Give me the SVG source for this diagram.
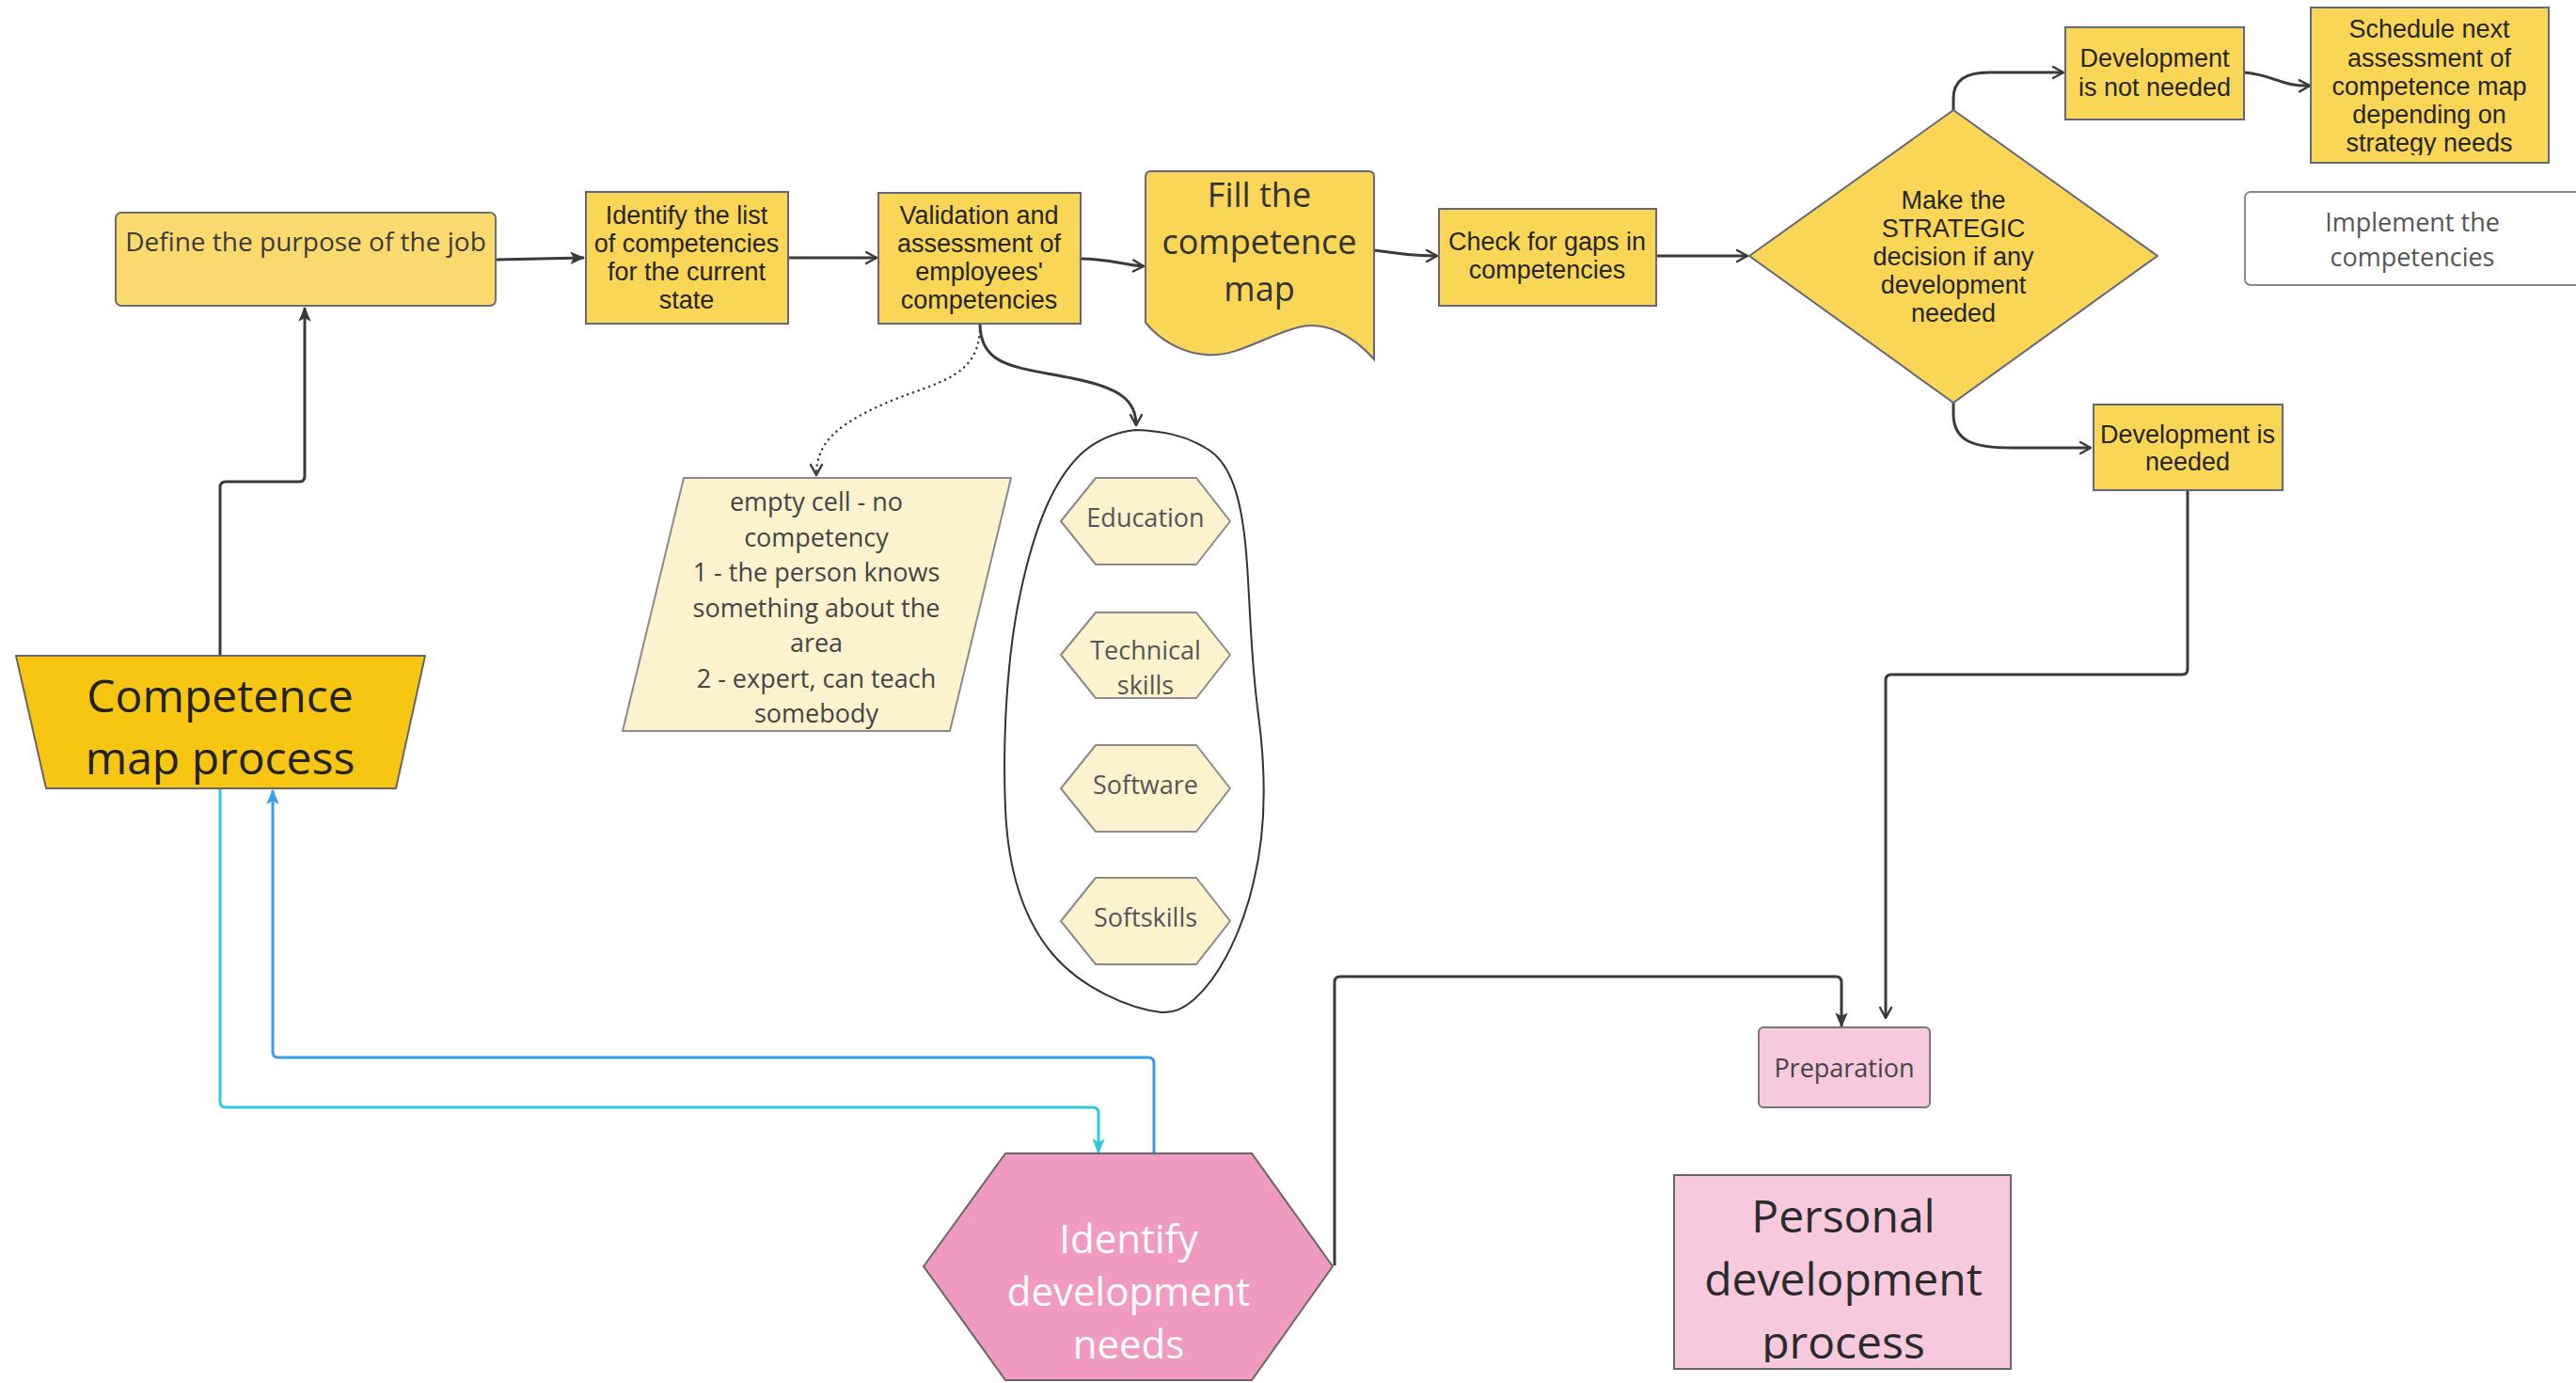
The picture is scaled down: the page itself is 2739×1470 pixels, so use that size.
<svg xmlns="http://www.w3.org/2000/svg" width="2739" height="1470" viewBox="0 0 2739 1470">
  <defs>
    <style>
      .sans { font-family: "Open Sans", "Noto Sans", sans-serif; text-anchor: middle; }
      .arial { font-family: "Liberation Sans", Arial, sans-serif; text-anchor: middle; fill: #262626; font-size: 27px; }
      .box { fill: #F9D656; stroke: #66667a; stroke-width: 2; }
      .light { fill: #FDF2CE; stroke: #8a8a8a; stroke-width: 2; stroke-linejoin: round; }
      .conn { fill: none; stroke: #3a3a3a; stroke-width: 3; stroke-linejoin: round; }
      .thin { fill: none; stroke: #3a3a3a; stroke-width: 2.2; }
      .hexlabel { font-size: 27px; fill: #555; }
    </style>
    <marker id="open" viewBox="0 0 16 16" refX="14" refY="8" markerWidth="16" markerHeight="16" markerUnits="userSpaceOnUse" orient="auto">
      <path d="M3,2 L14,8 L3,14" fill="none" stroke="#3a3a3a" stroke-width="2.4" stroke-linecap="round" stroke-linejoin="round"/>
    </marker>
    <marker id="solid" viewBox="0 0 16 16" refX="14" refY="8" markerWidth="18" markerHeight="18" markerUnits="userSpaceOnUse" orient="auto">
      <path d="M1,2 L15,8 L1,14 L4,8 Z" fill="#3a3a3a"/>
    </marker>
    <marker id="blue" viewBox="0 0 16 16" refX="14" refY="8" markerWidth="18" markerHeight="18" markerUnits="userSpaceOnUse" orient="auto">
      <path d="M1,2 L15,8 L1,14 L4,8 Z" fill="#3B9BEF"/>
    </marker>
    <marker id="cyan" viewBox="0 0 16 16" refX="14" refY="8" markerWidth="18" markerHeight="18" markerUnits="userSpaceOnUse" orient="auto">
      <path d="M1,2 L15,8 L1,14 L4,8 Z" fill="#2DCBD8"/>
    </marker>
    <clipPath id="clipSchedule"><rect x="2457" y="0" width="253" height="165"/></clipPath>
    <clipPath id="clipPersonal"><rect x="1780" y="1249" width="358" height="199"/></clipPath>
  </defs>

  <rect width="2739" height="1470" fill="#ffffff"/>

  <!-- connectors -->
  <g id="connectors">
    <path class="conn" d="M527,276 L621,274" marker-end="url(#solid)"/>
    <path class="conn" d="M838,274 L932,274" marker-end="url(#open)"/>
    <path class="conn" d="M1149,275 C1180,275 1195,282 1216,283" marker-end="url(#open)"/>
    <path class="conn" d="M1461,266 C1490,270 1505,272 1528,272" marker-end="url(#open)"/>
    <path class="conn" d="M1761,272 L1858,272" marker-end="url(#open)"/>
    <path class="conn" d="M2077,117 L2077,105 C2077,85 2090,77 2115,77 L2194,77" marker-end="url(#open)"/>
    <path class="conn" d="M2386,77 C2420,80 2425,92 2456,91" marker-end="url(#open)"/>
    <path class="conn" d="M2077,428 L2077,440 C2077,470 2100,476 2140,476 L2223,476" marker-end="url(#open)"/>
    <path class="conn" d="M2326,521 L2326,711 Q2326,717 2320,717 L2011,717 Q2005,717 2005,723 L2005,1082" marker-end="url(#open)"/>
    <path class="conn" d="M1419,1345 L1419,1044 Q1419,1038 1425,1038 L1952,1038 Q1958,1038 1958,1044 L1958,1091" marker-end="url(#solid)"/>
    <path class="conn" d="M234,697 L234,518 Q234,512 240,512 L318,512 Q324,512 324,506 L324,327" marker-end="url(#solid)"/>
    <path fill="none" stroke="#2DCBD8" stroke-width="3" d="M234,838 L234,1171 Q234,1177 240,1177 L1162,1177 Q1168,1177 1168,1183 L1168,1225" marker-end="url(#cyan)"/>
    <path fill="none" stroke="#3B9BEF" stroke-width="3" d="M1227,1226 L1227,1130 Q1227,1124 1221,1124 L296,1124 Q290,1124 290,1118 L290,840" marker-end="url(#blue)"/>
    <path fill="none" stroke="#3a3a3a" stroke-width="2.5" stroke-dasharray="0.1 6" stroke-linecap="round" d="M1042,346 C1042,400 1000,405 950,425 C890,450 868,470 868,505" marker-end="url(#open)"/>
    <path class="conn" d="M1042,344 C1042,390 1080,390 1140,402 C1190,412 1208,425 1208,452" marker-end="url(#open)"/>
  </g>

  <!-- top flow -->
  <g id="define-purpose">
    <rect x="123" y="226" width="404" height="99" rx="6" fill="#FADA6F" stroke="#6e6e6e" stroke-width="2"/>
    <text class="sans" x="325" y="267" font-size="28" fill="#3a3a3a">Define the purpose of the job</text>
  </g>

  <g id="identify-list">
    <rect class="box" x="623" y="204" width="215" height="140"/>
    <text class="arial" x="730" y="238">Identify the list</text>
    <text class="arial" x="730" y="268">of competencies</text>
    <text class="arial" x="730" y="298">for the current</text>
    <text class="arial" x="730" y="328">state</text>
  </g>

  <g id="validation">
    <rect class="box" x="934" y="205" width="215" height="139"/>
    <text class="arial" x="1041" y="238">Validation and</text>
    <text class="arial" x="1041" y="268">assessment of</text>
    <text class="arial" x="1041" y="298">employees'</text>
    <text class="arial" x="1041" y="328">competencies</text>
  </g>

  <g id="fill-map">
    <path class="box" d="M1218,188 Q1218,182 1224,182 L1455,182 Q1461,182 1461,188 L1461,382 C1440,358 1410,340 1380,348 C1345,357 1315,380 1282,377 C1255,375 1232,360 1218,343 Z"/>
    <text class="sans" x="1339" y="220" font-size="36" fill="#333">Fill the</text>
    <text class="sans" x="1339" y="270" font-size="36" fill="#333">competence</text>
    <text class="sans" x="1339" y="320" font-size="36" fill="#333">map</text>
  </g>

  <g id="check-gaps">
    <rect class="box" x="1530" y="222" width="231" height="103"/>
    <text class="arial" x="1645" y="266">Check for gaps in</text>
    <text class="arial" x="1645" y="296">competencies</text>
  </g>

  <g id="strategic-decision">
    <polygon class="box" points="1860,272 2077,117 2294,272 2077,428"/>
    <text class="arial" x="2077" y="222">Make the</text>
    <text class="arial" x="2077" y="252">STRATEGIC</text>
    <text class="arial" x="2077" y="282">decision if any</text>
    <text class="arial" x="2077" y="312">development</text>
    <text class="arial" x="2077" y="342">needed</text>
  </g>

  <g id="dev-not-needed">
    <rect class="box" x="2196" y="29" width="190" height="98"/>
    <text class="arial" x="2291" y="71">Development</text>
    <text class="arial" x="2291" y="102">is not needed</text>
  </g>

  <g id="schedule-next">
    <rect class="box" x="2457" y="8" width="253" height="165"/>
    <g clip-path="url(#clipSchedule)">
      <text class="arial" x="2583" y="40">Schedule next</text>
      <text class="arial" x="2583" y="71">assessment of</text>
      <text class="arial" x="2583" y="101">competence map</text>
      <text class="arial" x="2583" y="131">depending on</text>
      <text class="arial" x="2583" y="161">strategy needs</text>
    </g>
  </g>

  <g id="implement">
    <rect x="2387" y="204" width="380" height="99" rx="6" fill="#ffffff" stroke="#8a8a8a" stroke-width="2"/>
    <text class="sans" x="2565" y="246" font-size="27" fill="#555">Implement the</text>
    <text class="sans" x="2565" y="283" font-size="27" fill="#555">competencies</text>
  </g>

  <g id="dev-needed">
    <rect class="box" x="2226" y="430" width="201" height="91"/>
    <text class="arial" x="2326" y="471">Development is</text>
    <text class="arial" x="2326" y="500">needed</text>
  </g>

  <!-- rating scale note -->
  <g id="rating-scale">
    <polygon class="light" points="727,508 1075,508 1010,777 662,777"/>
    <g class="sans" font-size="27" fill="#444">
      <text x="868" y="543">empty cell - no</text>
      <text x="868" y="581">competency</text>
      <text x="868" y="618">1 - the person knows</text>
      <text x="868" y="656">something about the</text>
      <text x="868" y="693">area</text>
      <text x="868" y="731">2 - expert, can teach</text>
      <text x="868" y="768">somebody</text>
    </g>
  </g>

  <!-- competency areas -->
  <g id="areas">
    <path fill="none" stroke="#333" stroke-width="2" d="M1207,457 C1235,458 1260,462 1285,478 C1312,495 1322,540 1326,600 C1330,660 1330,700 1338,760 C1346,820 1347,880 1333,937 C1322,985 1300,1035 1270,1062 C1258,1072 1248,1077 1235,1076 C1200,1072 1150,1050 1120,1015 C1090,980 1072,930 1069,860 C1066,790 1070,700 1085,630 C1100,560 1120,510 1150,482 C1170,464 1190,459 1207,457 Z"/>
  </g>
  <g id="education">
    <polygon class="light" points="1128,554 1165,508 1272,508 1308,554 1272,600 1165,600"/>
    <text class="sans hexlabel" x="1218" y="560">Education</text>
  </g>
  <g id="technical-skills">
    <polygon class="light" points="1128,696 1165,651 1272,651 1308,696 1272,742 1165,742"/>
    <text class="sans hexlabel" x="1218" y="701">Technical</text>
    <text class="sans hexlabel" x="1218" y="738">skills</text>
  </g>
  <g id="software">
    <polygon class="light" points="1128,838 1165,792 1272,792 1308,838 1272,884 1165,884"/>
    <text class="sans hexlabel" x="1218" y="844">Software</text>
  </g>
  <g id="softskills">
    <polygon class="light" points="1128,979 1165,933 1272,933 1308,979 1272,1025 1165,1025"/>
    <text class="sans hexlabel" x="1218" y="985">Softskills</text>
  </g>

  <!-- process blocks -->
  <g id="competence-map-process">
    <polygon points="17,697 452,697 421,838 49,838" fill="#F7C612" stroke="#666" stroke-width="2" stroke-linejoin="round"/>
    <text class="sans" x="234" y="757" font-size="48" fill="#222">Competence</text>
    <text class="sans" x="234" y="823" font-size="48" fill="#222">map process</text>
  </g>

  <g id="identify-needs">
    <polygon points="982,1346 1069,1226 1331,1226 1417,1346 1331,1467 1069,1467" fill="#F09AC1" stroke="#666" stroke-width="2"/>
    <text class="sans" x="1200" y="1332" font-size="42" fill="#ffffff">Identify</text>
    <text class="sans" x="1200" y="1388" font-size="42" fill="#ffffff">development</text>
    <text class="sans" x="1200" y="1444" font-size="42" fill="#ffffff">needs</text>
  </g>

  <g id="preparation">
    <rect x="1870" y="1092" width="182" height="85" rx="5" fill="#F6C9DF" stroke="#777" stroke-width="2"/>
    <text class="sans" x="1961" y="1145" font-size="27" fill="#444">Preparation</text>
  </g>

  <g id="personal-development-process">
    <rect x="1780" y="1249" width="358" height="206" fill="#F6C9DF" stroke="#666" stroke-width="2"/>
    <g clip-path="url(#clipPersonal)">
      <text class="sans" x="1960" y="1310" font-size="48" fill="#2a2a2a">Personal</text>
      <text class="sans" x="1960" y="1377" font-size="48" fill="#2a2a2a">development</text>
      <text class="sans" x="1960" y="1444" font-size="48" fill="#2a2a2a">process</text>
    </g>
  </g>
</svg>
